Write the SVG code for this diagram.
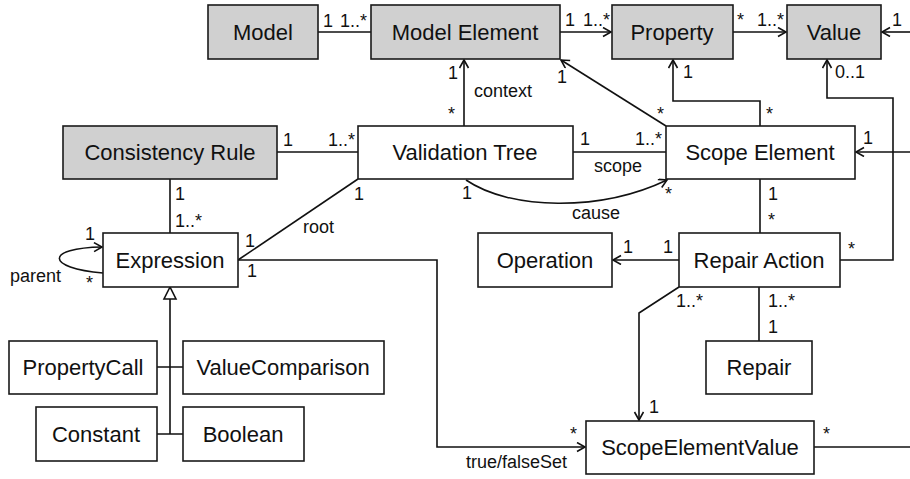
<svg xmlns="http://www.w3.org/2000/svg" width="910" height="479" viewBox="0 0 910 479">
<style>
.box{fill:#fff;stroke:#1a1a1a;stroke-width:1.6}
.g{fill:#d0d0d0}
.t{font-family:"Liberation Sans",Arial,sans-serif;font-size:22px;fill:#111;text-anchor:middle}
.l{font-family:"Liberation Sans",Arial,sans-serif;font-size:18px;fill:#111}
.c{fill:none;stroke:#111;stroke-width:1.6}
</style>
<defs>
<marker id="arr" markerWidth="12" markerHeight="12" refX="9" refY="5" orient="auto" markerUnits="userSpaceOnUse">
<path d="M1,0.5 L9,5 L1,9.5" fill="none" stroke="#111" stroke-width="1.6"/>
</marker>
</defs>
<rect width="910" height="479" fill="#fff"/>
<g id="connectors">
<path class="c" d="M318,32 H371"/>
<path class="c" d="M560,32 H611" marker-end="url(#arr)"/>
<path class="c" d="M733,32 H786" marker-end="url(#arr)"/>
<path class="c" d="M910,32 H882" marker-end="url(#arr)"/>
<path class="c" d="M464,126 V60" marker-end="url(#arr)"/>
<path class="c" d="M666,126 L561,60" marker-end="url(#arr)"/>
<path class="c" d="M760,126 V101 H673 V60" marker-end="url(#arr)"/>
<path class="c" d="M840,260 H893 V98 H827 V60" marker-end="url(#arr)"/>
<path class="c" d="M910,152 H856" marker-end="url(#arr)"/>
<path class="c" d="M277,152 H358"/>
<path class="c" d="M573,152 H666"/>
<path class="c" d="M466,180 C510,210 600,212 667,180" marker-end="url(#arr)"/>
<path class="c" d="M170,179 V233"/>
<path class="c" d="M358,179 L238,260"/>
<path class="c" d="M103,273 C45,268 45,248 102,247" marker-end="url(#arr)"/>
<path class="c" d="M238,260 H437 V447 H585" marker-end="url(#arr)"/>
<path class="c" d="M760,179 V233"/>
<path class="c" d="M679,260 H613" marker-end="url(#arr)"/>
<path class="c" d="M759,287 V341"/>
<path class="c" d="M679,287 L639,313 V420" marker-end="url(#arr)"/>
<path class="c" d="M814,447 H910"/>
<path class="c" d="M170,299 V434 M157,367 H183 M157,434 H183"/>
<path d="M170,287 L164,299 L176,299 Z" fill="#fff" stroke="#111" stroke-width="1.6"/>
<text class="l" x="323" y="27">1</text>
<text class="l" x="340" y="27">1..*</text>
<text class="l" x="565" y="26">1</text>
<text class="l" x="583" y="26">1..*</text>
<text class="l" x="737" y="26">*</text>
<text class="l" x="757" y="26">1..*</text>
<text class="l" x="892" y="26">1</text>
<text class="l" x="448" y="79">1</text>
<text class="l" x="448" y="120">*</text>
<text class="l" x="474" y="97">context</text>
<text class="l" x="557" y="83">1</text>
<text class="l" x="683" y="78">1</text>
<text class="l" x="835" y="78">0..1</text>
<text class="l" x="657" y="120">*</text>
<text class="l" x="766" y="120">*</text>
<text class="l" x="283" y="146">1</text>
<text class="l" x="328" y="146">1..*</text>
<text class="l" x="580" y="145">1</text>
<text class="l" x="635" y="145">1..*</text>
<text class="l" x="594" y="172">scope</text>
<text class="l" x="863" y="144">1</text>
<text class="l" x="175" y="200">1</text>
<text class="l" x="175" y="227">1..*</text>
<text class="l" x="354" y="200">1</text>
<text class="l" x="303" y="233">root</text>
<text class="l" x="245" y="247">1</text>
<text class="l" x="247" y="277">1</text>
<text class="l" x="85" y="240">1</text>
<text class="l" x="86" y="289">*</text>
<text class="l" x="10" y="282">parent</text>
<text class="l" x="462" y="199">1</text>
<text class="l" x="665" y="200">*</text>
<text class="l" x="572" y="219">cause</text>
<text class="l" x="768" y="200">1</text>
<text class="l" x="768" y="226">*</text>
<text class="l" x="623" y="253">1</text>
<text class="l" x="663" y="253">1</text>
<text class="l" x="848" y="255">*</text>
<text class="l" x="676" y="307">1..*</text>
<text class="l" x="768" y="307">1..*</text>
<text class="l" x="768" y="333">1</text>
<text class="l" x="649" y="413">1</text>
<text class="l" x="570" y="440">*</text>
<text class="l" x="466" y="468">true/falseSet</text>
<text class="l" x="823" y="440">*</text>
</g>
<g id="model"><rect class="box g" x="208" y="5" width="110" height="54"/><text class="t" x="263" y="40">Model</text></g>
<g id="model-element"><rect class="box g" x="371" y="5" width="189" height="54"/><text class="t" x="465" y="40">Model Element</text></g>
<g id="property"><rect class="box g" x="612" y="5" width="121" height="54"/><text class="t" x="672" y="40">Property</text></g>
<g id="value"><rect class="box g" x="787" y="5" width="94" height="54"/><text class="t" x="834" y="40">Value</text></g>
<g id="consistency-rule"><rect class="box g" x="63" y="126" width="214" height="53"/><text class="t" x="170" y="160">Consistency Rule</text></g>
<g id="validation-tree"><rect class="box" x="358" y="126" width="215" height="53"/><text class="t" x="465" y="160">Validation Tree</text></g>
<g id="scope-element"><rect class="box" x="666" y="126" width="189" height="53"/><text class="t" x="760" y="160">Scope Element</text></g>
<g id="expression"><rect class="box" x="103" y="233" width="135" height="54"/><text class="t" x="170" y="268">Expression</text></g>
<g id="operation"><rect class="box" x="478" y="233" width="134" height="54"/><text class="t" x="545" y="268">Operation</text></g>
<g id="repair-action"><rect class="box" x="679" y="233" width="161" height="54"/><text class="t" x="759" y="268">Repair Action</text></g>
<g id="property-call"><rect class="box" x="9" y="341" width="148" height="53"/><text class="t" x="83" y="375">PropertyCall</text></g>
<g id="value-comparison"><rect class="box" x="183" y="341" width="201" height="53"/><text class="t" x="283" y="375">ValueComparison</text></g>
<g id="constant"><rect class="box" x="36" y="407" width="121" height="54"/><text class="t" x="96" y="442">Constant</text></g>
<g id="boolean"><rect class="box" x="183" y="407" width="121" height="54"/><text class="t" x="243" y="442">Boolean</text></g>
<g id="repair"><rect class="box" x="706" y="341" width="106" height="53"/><text class="t" x="759" y="375">Repair</text></g>
<g id="scope-element-value"><rect class="box" x="586" y="421" width="228" height="53"/><text class="t" x="700" y="455">ScopeElementValue</text></g>
</svg>
